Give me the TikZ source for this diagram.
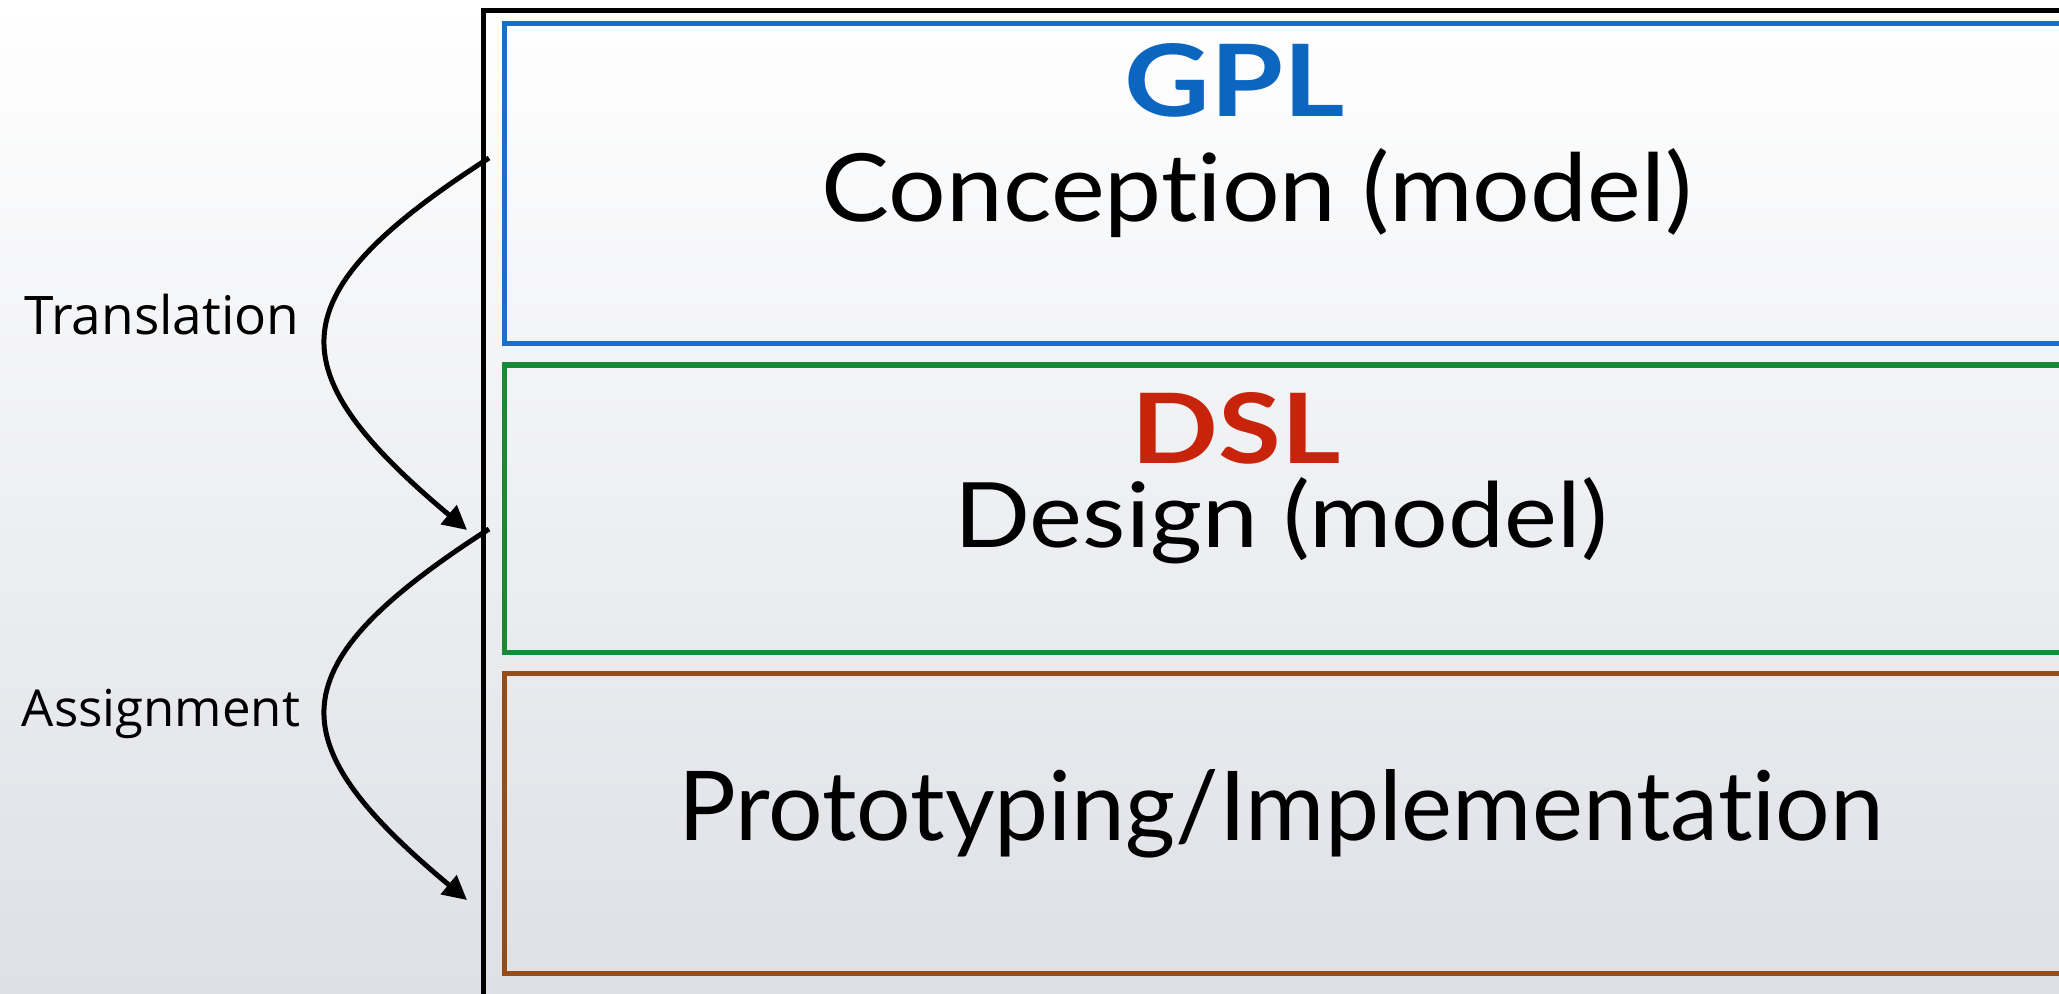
\documentclass[tikz,border=0pt]{standalone}
\usepackage{fontspec}
\setmainfont{Lato}[Ligatures={NoCommon}]
\newfontfamily\handfont{Open Sans}
\usetikzlibrary{arrows.meta}
\definecolor{bgbot}{RGB}{222,224,230}
\definecolor{gplblue}{RGB}{12,102,192}
\definecolor{boxblue}{RGB}{24,112,200}
\definecolor{boxgreen}{RGB}{22,138,52}
\definecolor{boxbrown}{RGB}{150,76,22}
\definecolor{dslred}{RGB}{200,36,12}
\newcommand{\fitw}[2]{\resizebox{#1}{!}{#2}}
\newcommand{\fitwh}[3]{\resizebox{#1}{#2}{#3}}
\begin{document}
\begin{tikzpicture}[x=0.5pt,y=-0.5pt,
  frame/.style={draw=black, line width=2.5pt, inner sep=0pt, outer sep=0pt, anchor=north west},
  layer/.style={draw=#1, line width=2.5pt, inner sep=0pt, outer sep=0pt, anchor=north west, minimum width=783.5pt},
  title/.style={inner sep=0pt, anchor=base},
  lbl/.style={inner sep=0pt, anchor=base, font=\handfont},
  flow/.style={line width=2.5pt, -{Triangle[length=12pt,width=12pt]}}
]
\useasboundingbox (0,0) rectangle (2059,994);
\clip (0,0) rectangle (2059,994);
\shade[top color=white, bottom color=bgbot] (0,0) rectangle (2059,994);

\node[frame, minimum width=820pt, minimum height=520pt] (outer) at (483.5,11) {};
\node[layer=boxblue, minimum height=160pt] (conc) at (504,24) {};
\node[layer=boxgreen, minimum height=143.5pt] (desg) at (504,365) {};
\node[layer=boxbrown, minimum height=150pt] (prot) at (504,673) {};

\node[title, text=gplblue] (gpl) at (1235,117) {\fitwh{110pt}{36.5pt}{\bfseries GPL}};
\node[title] (conctxt) at (1257,222) {\fitwh{435pt}{36.5pt}{Conception (model)}};
\node[title, text=dslred] (dsl) at (1236,463) {\fitwh{104.5pt}{35.5pt}{\bfseries DSL}};
\node[title] (desgtxt) at (1281,547) {\fitwh{326.5pt}{35pt}{Design (model)}};
\node[title] (prottxt) at (1281,840) {\fitw{602.5pt}{Prototyping/Implementation}};

\node[lbl] (trans) at (162,335) {\fitw{137.5pt}{Translation}};
\node[lbl] (assign) at (161,726) {\fitw{139pt}{Assignment}};

\coordinate (t1s) at (489,158);
\coordinate (t1e) at (467,530);
\coordinate (t2s) at (489,529);
\coordinate (t2e) at (467,900);
\draw[flow] (t1s) .. controls (276,295) and (276,370) .. (t1e);
\draw[flow] (t2s) .. controls (276,666) and (276,741) .. (t2e);
\end{tikzpicture}
\end{document}
